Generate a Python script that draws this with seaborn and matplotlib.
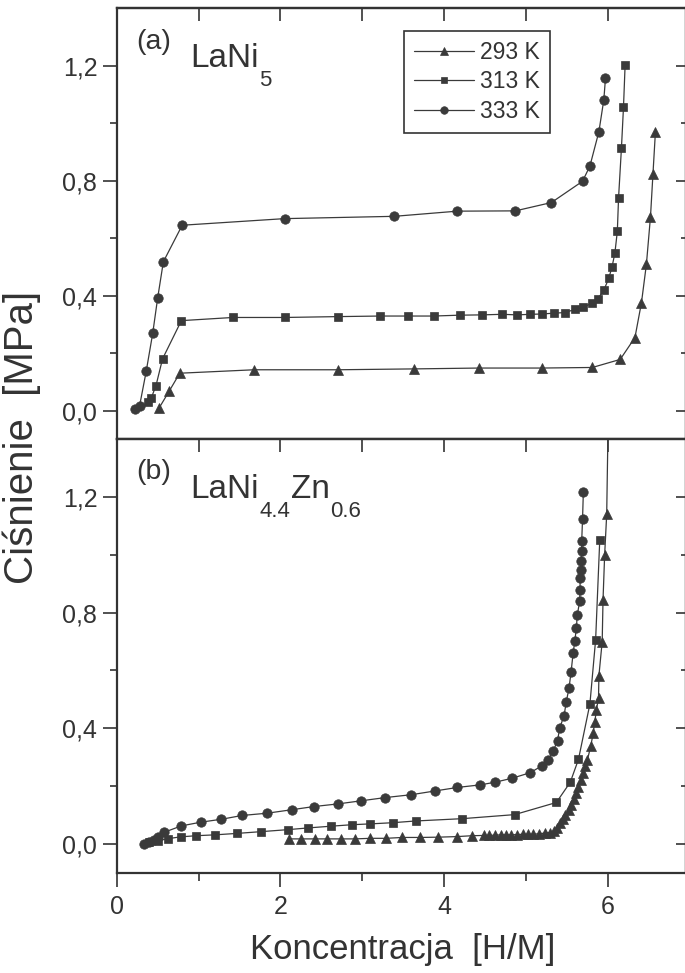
import matplotlib
matplotlib.use("Agg")
import matplotlib.pyplot as plt
import seaborn as sns
import pandas as pd
from matplotlib.ticker import FixedLocator

# ---------------- data ----------------
series_labels = ["293 K", "313 K", "333 K"]

# panel (a) LaNi5
a293_x = [0.52, 0.64, 0.77, 1.68, 2.70, 3.63, 4.43, 5.19, 5.81, 6.15, 6.33, 6.41, 6.47, 6.52, 6.55, 6.58]
a293_y = [0.010, 0.067, 0.130, 0.142, 0.142, 0.145, 0.148, 0.148, 0.150, 0.178, 0.254, 0.376, 0.509, 0.675, 0.823, 0.969]

a313_x = [0.38, 0.42, 0.48, 0.56, 0.79, 1.42, 2.05, 2.70, 3.22, 3.56, 3.87, 4.19, 4.46, 4.71, 4.89,
          5.05, 5.19, 5.34, 5.47, 5.60, 5.70, 5.80, 5.88, 5.95, 6.01, 6.05, 6.085, 6.115, 6.13, 6.165, 6.19, 6.21]
a313_y = [0.030, 0.042, 0.087, 0.180, 0.313, 0.324, 0.324, 0.327, 0.329, 0.329, 0.329, 0.332, 0.333, 0.335, 0.333,
          0.335, 0.336, 0.339, 0.341, 0.352, 0.360, 0.373, 0.390, 0.419, 0.460, 0.500, 0.548, 0.624, 0.741, 0.913, 1.055, 1.203]

a333_x = [0.22, 0.28, 0.36, 0.44, 0.50, 0.57, 0.80, 2.05, 3.39, 4.16, 4.87, 5.31, 5.69, 5.78, 5.89, 5.95, 5.97]
a333_y = [0.006, 0.017, 0.136, 0.269, 0.391, 0.518, 0.645, 0.668, 0.676, 0.694, 0.695, 0.724, 0.798, 0.851, 0.971, 1.082, 1.156]

# panel (b) LaNi4.4Zn0.6
b293_x = [2.11, 2.25, 2.42, 2.57, 2.74, 2.91, 3.10, 3.29, 3.49, 3.71, 3.93, 4.16, 4.34, 4.49, 4.55, 4.62,
          4.69, 4.76, 4.82, 4.89, 4.96, 5.02, 5.09, 5.16, 5.23, 5.29, 5.34, 5.38, 5.42, 5.45, 5.48, 5.52,
          5.55, 5.58, 5.61, 5.64, 5.67, 5.70, 5.72, 5.75, 5.79, 5.82, 5.84, 5.86, 5.885, 5.89, 5.93, 5.94,
          5.96, 5.985, 6.01]
b293_y = [0.017, 0.017, 0.017, 0.017, 0.017, 0.017, 0.019, 0.019, 0.022, 0.022, 0.023, 0.025, 0.028, 0.029,
          0.029, 0.030, 0.031, 0.031, 0.031, 0.032, 0.033, 0.033, 0.033, 0.035, 0.037, 0.039, 0.045, 0.056,
          0.071, 0.085, 0.100, 0.118, 0.135, 0.154, 0.175, 0.198, 0.221, 0.244, 0.268, 0.291, 0.338, 0.383,
          0.423, 0.464, 0.505, 0.582, 0.700, 0.843, 1.000, 1.140, 1.600]

b313_x = [0.40, 0.50, 0.63, 0.78, 0.97, 1.20, 1.47, 1.76, 2.09, 2.34, 2.62, 2.87, 3.10, 3.37, 3.65, 4.22,
          4.86, 5.37, 5.54, 5.64, 5.78, 5.85, 5.90]
b313_y = [0.005, 0.010, 0.018, 0.024, 0.028, 0.031, 0.036, 0.042, 0.049, 0.055, 0.061, 0.066, 0.069, 0.073,
          0.079, 0.087, 0.101, 0.143, 0.213, 0.292, 0.484, 0.707, 1.050]

b333_x = [0.33, 0.39, 0.45, 0.51, 0.58, 0.79, 1.03, 1.28, 1.53, 1.84, 2.14, 2.41, 2.70, 2.99, 3.28, 3.60,
          3.89, 4.16, 4.44, 4.62, 4.83, 5.05, 5.20, 5.27, 5.33, 5.385, 5.41, 5.465, 5.49, 5.525, 5.55,
          5.575, 5.595, 5.615, 5.625, 5.655, 5.66, 5.66, 5.67, 5.67, 5.68, 5.68, 5.69, 5.70]
b333_y = [0.000, 0.006, 0.014, 0.022, 0.040, 0.062, 0.075, 0.085, 0.098, 0.106, 0.118, 0.129, 0.138, 0.149,
          0.160, 0.170, 0.183, 0.195, 0.204, 0.213, 0.227, 0.246, 0.271, 0.291, 0.320, 0.357, 0.400, 0.444,
          0.490, 0.539, 0.595, 0.660, 0.701, 0.747, 0.791, 0.839, 0.880, 0.920, 0.949, 0.978, 1.012, 1.049,
          1.124, 1.219]

y_major = [0.0, 0.4, 0.8, 1.2]
y_minor = [0.2, 0.6, 1.0]
y_ticklabels = ["0,0", "0,4", "0,8", "1,2"]
x_major = [0, 2, 4, 6]
x_minor = [1, 3, 5]
x_ticklabels = ["0", "2", "4", "6"]

# ---------------- style ----------------
sns.set_theme(style="white")
plt.rcParams["font.family"] = ["Liberation Sans", "DejaVu Sans"]
INK = "#333333"
plt.rcParams.update({
    "text.color": INK, "axes.edgecolor": INK, "xtick.color": INK, "ytick.color": INK,
    "axes.labelcolor": INK,
})

fig = plt.figure(figsize=(6.85, 9.73), dpi=100)
fig.patch.set_facecolor("white")
W = 569 / 685
ax_a = fig.add_axes([116.7 / 685, 1 - 439.3 / 973, W, 431 / 973])
ax_b = fig.add_axes([116.7 / 685, 1 - 872.7 / 973, W, 433.4 / 973])

markers = {"293 K": ("^", 7.6), "313 K": ("s", 5.6), "333 K": ("o", 6.8)}


def draw(ax, data, legend):
    for lab, (xs, ys) in zip(series_labels, data):
        df = pd.DataFrame({"x": xs, "y": ys})
        m, ms = markers[lab]
        sns.lineplot(data=df, x="x", y="y", ax=ax, sort=False, estimator=None,
                     color="#3a3a3a", lw=0.9, marker=m, markersize=ms,
                     markeredgecolor="#3a3a3a", markerfacecolor="#3a3a3a",
                     markeredgewidth=0.5, label=lab if legend else None, legend=False)
    ax.set_xlim(0, 6.95)
    ax.set_ylim(-0.1, 1.4)
    ax.set_xlabel("")
    ax.set_ylabel("")
    for s in ax.spines.values():
        s.set_linewidth(1.6)
        s.set_color(INK)
        s.set_visible(True)
    ax.yaxis.set_major_locator(FixedLocator(y_major))
    ax.yaxis.set_minor_locator(FixedLocator(y_minor))
    ax.set_yticklabels(y_ticklabels)
    ax.xaxis.set_major_locator(FixedLocator(x_major))
    ax.xaxis.set_minor_locator(FixedLocator(x_minor))
    ax.tick_params(axis="y", which="both", left=True, right=False, direction="out",
                   labelsize=18, pad=4, width=1.2)
    ax.tick_params(axis="y", which="major", length=10)
    ax.tick_params(axis="y", which="minor", length=5)
    ax.tick_params(axis="x", which="both", bottom=True, top=False, direction="out",
                   labelsize=18, pad=6, width=1.2)
    ax.tick_params(axis="x", which="major", length=10)
    ax.tick_params(axis="x", which="minor", length=5.5)
    # right axis: inward ticks
    sec_y = ax.secondary_yaxis("right")
    sec_y.yaxis.set_major_locator(FixedLocator(y_major))
    sec_y.yaxis.set_minor_locator(FixedLocator(y_minor))
    sec_y.tick_params(axis="y", which="both", direction="in", labelright=False, width=1.2, color=INK)
    sec_y.tick_params(axis="y", which="major", length=7)
    sec_y.tick_params(axis="y", which="minor", length=3.5)
    sec_y.spines["right"].set_linewidth(1.6)
    # top axis: inward ticks
    sec_x = ax.secondary_xaxis("top")
    sec_x.xaxis.set_major_locator(FixedLocator(x_major))
    sec_x.xaxis.set_minor_locator(FixedLocator(x_minor))
    sec_x.tick_params(axis="x", which="both", direction="in", labeltop=False, width=1.2,
                      length=9, color=INK)
    sec_x.spines["top"].set_linewidth(1.6)


draw(ax_a, [(a293_x, a293_y), (a313_x, a313_y), (a333_x, a333_y)], True)
draw(ax_b, [(b293_x, b293_y), (b313_x, b313_y), (b333_x, b333_y)], False)
ax_a.tick_params(axis="x", labelbottom=False)
ax_b.set_xticklabels(x_ticklabels)

# legend
leg = ax_a.legend(loc="upper left", bbox_to_anchor=(0.505, 0.948), fontsize=16.5,
                  frameon=True, fancybox=False, framealpha=1, edgecolor=INK,
                  handlelength=2.6, handletextpad=0.25, labelspacing=0.28,
                  borderpad=0.45, borderaxespad=0, markerscale=0.8)
leg.get_frame().set_linewidth(1.2)


def formula(ax, parts):
    base_y = 0.864
    prev = None
    for txt, sub in parts:
        size = 16 if sub else 24
        dy = -13.5 if sub else 0
        if prev is None:
            prev = ax.text(0.129, base_y, txt, transform=ax.transAxes, fontsize=size,
                           va="baseline", ha="left", color=INK)
        else:
            prev = ax.annotate(txt, xy=(1, base_y), xycoords=(prev, "axes fraction"),
                               xytext=(0.5, dy), textcoords="offset points", fontsize=size,
                               va="baseline", ha="left", color=INK)


ax_a.text(0.035, 0.922, "(a)", transform=ax_a.transAxes, fontsize=20.5, va="center", ha="left")
formula(ax_a, [("LaNi", False), ("5", True)])
ax_b.text(0.035, 0.924, "(b)", transform=ax_b.transAxes, fontsize=20.5, va="center", ha="left")
formula(ax_b, [("LaNi", False), ("4.4", True), ("Zn", False), ("0.6", True)])

fig.text(22 / 685, 1 - 437 / 973, "Ciśnienie  [MPa]", rotation=90, fontsize=29,
         ha="center", va="center", color=INK)
fig.text(403 / 685, 1 - 949 / 973, "Koncentracja  [H/M]", fontsize=25,
         ha="center", va="center", color=INK)

fig.savefig("out.png", dpi=100, facecolor="white")
